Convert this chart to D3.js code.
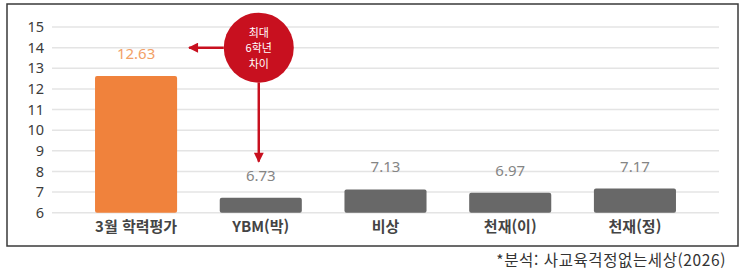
<html lang="ko">
<head>
  <meta charset="UTF-8">
  <title>3월 학력평가 vs 교과서</title>
  <style>
    body { margin: 0; background: #fff; }
    text { font-family: "Noto Sans CJK KR", "Noto Sans", sans-serif; }
  </style>
</head>
<body>
  <div class="svg-target"></div>
  <script src="https://d3js.org/d3.v7.min.js"></script>
  <script>
    const w = 745;
    const h = 273;

    // data
    const categories = ["3월 학력평가", "YBM(박)", "비상", "천재(이)", "천재(정)"];
    const values = [12.63, 6.73, 7.13, 6.97, 7.17];
    const barColors = ["#f0823c", "#686868", "#686868", "#686868", "#686868"];
    const labelColors = ["#f2a066", "#858585", "#858585", "#858585", "#858585"];
    const yTicks = [6, 7, 8, 9, 10, 11, 12, 13, 14, 15];
    const noteLines = ["최대", "6학년", "차이"];
    const source = "*분석:  사교육걱정없는세상(2026)";

    const svg = d3.select("div.svg-target")
      .append("svg")
      .attr("width", w)
      .attr("height", h);

    // frame
    svg.append("rect")
      .attr("x", 7).attr("y", 4)
      .attr("width", 731).attr("height", 242)
      .attr("fill", "none")
      .attr("stroke", "#3a3a3a")
      .attr("stroke-width", 1.5);

    const xScale = d3.scaleBand()
      .domain(categories)
      .range([52, 719])
      .paddingInner(0.342)
      .paddingOuter(0.345);

    const yScale = d3.scaleLinear()
      .domain([6, 15])
      .range([212.7, 27]);

    // gridlines
    svg.append("g")
      .selectAll("line")
      .data(yTicks)
      .enter()
      .append("line")
      .attr("x1", 52).attr("x2", 719)
      .attr("y1", (d) => yScale(d)).attr("y2", (d) => yScale(d))
      .attr("stroke", "#e4e4e4")
      .attr("stroke-width", 1.5);

    // y axis labels
    const yAxis = d3.axisLeft(yScale)
      .tickValues(yTicks)
      .tickSize(0)
      .tickPadding(0);
    const yg = svg.append("g")
      .attr("transform", "translate(44,0)")
      .call(yAxis);
    yg.select(".domain").remove();
    yg.selectAll("text")
      .style("font-family", "'Noto Sans', sans-serif")
      .style("font-size", "14.5px")
      .attr("fill", "#3c3c3c");

    // bars
    svg.selectAll("rect.bar")
      .data(values)
      .enter()
      .append("rect")
      .attr("class", "bar")
      .attr("x", (d, i) => xScale(categories[i]))
      .attr("y", (d) => yScale(d))
      .attr("width", xScale.bandwidth())
      .attr("height", (d) => yScale(6) - yScale(d))
      .attr("rx", 2)
      .attr("fill", (d, i) => barColors[i]);

    // value labels
    svg.selectAll("text.val")
      .data(values)
      .enter()
      .append("text")
      .attr("class", "val")
      .attr("x", (d, i) => xScale(categories[i]) + xScale.bandwidth() / 2)
      .attr("y", (d) => yScale(d) - 17)
      .attr("text-anchor", "middle")
      .style("font-family", "'Noto Sans', sans-serif")
      .style("font-size", "15px")
      .attr("fill", (d, i) => labelColors[i])
      .text((d) => d.toFixed(2));

    // category labels
    const xAxis = d3.axisBottom(xScale).tickSize(0).tickPadding(0);
    const xg = svg.append("g")
      .attr("transform", "translate(0,221)")
      .call(xAxis);
    xg.select(".domain").remove();
    xg.selectAll("text")
      .style("font-family", "'Noto Sans CJK KR', sans-serif")
      .style("font-size", "15px")
      .style("font-weight", "600")
      .attr("fill", "#444");

    // annotation: red circle with arrows
    const red = "#c8101f";
    const cx = xScale(categories[1]) + xScale.bandwidth() / 2 - 2;
    const cy = yScale(14);
    const r = 35;

    const defs = svg.append("defs");
    defs.append("marker")
      .attr("id", "head")
      .attr("viewBox", "0 0 10 10")
      .attr("refX", 9).attr("refY", 5)
      .attr("markerWidth", 4.5).attr("markerHeight", 4)
      .attr("orient", "auto")
      .append("path")
      .attr("d", "M0,0 L10,5 L0,10 Z")
      .attr("fill", red);

    svg.append("line")
      .attr("x1", cx - r).attr("y1", cy)
      .attr("x2", xScale(categories[0]) + xScale.bandwidth() + 12).attr("y2", cy)
      .attr("stroke", red).attr("stroke-width", 2.5)
      .attr("marker-end", "url(#head)");

    svg.append("line")
      .attr("x1", cx).attr("y1", cy + r)
      .attr("x2", cx).attr("y2", yScale(values[1]) - 36)
      .attr("stroke", red).attr("stroke-width", 2.5)
      .attr("marker-end", "url(#head)");

    svg.append("circle")
      .attr("cx", cx).attr("cy", cy).attr("r", r)
      .attr("fill", red);

    svg.selectAll("text.note")
      .data(noteLines)
      .enter()
      .append("text")
      .attr("class", "note")
      .attr("x", cx)
      .attr("y", (d, i) => cy - 11 + i * 15.5)
      .attr("text-anchor", "middle")
      .style("font-size", "11px")
      .attr("fill", "#fff")
      .text((d) => d);

    // source note
    svg.append("text")
      .attr("x", 726)
      .attr("y", 266)
      .attr("text-anchor", "end")
      .style("font-size", "15.5px")
      .style("letter-spacing", "0.6px")
      .attr("fill", "#333")
      .text(source);
  </script>
</body>
</html>
